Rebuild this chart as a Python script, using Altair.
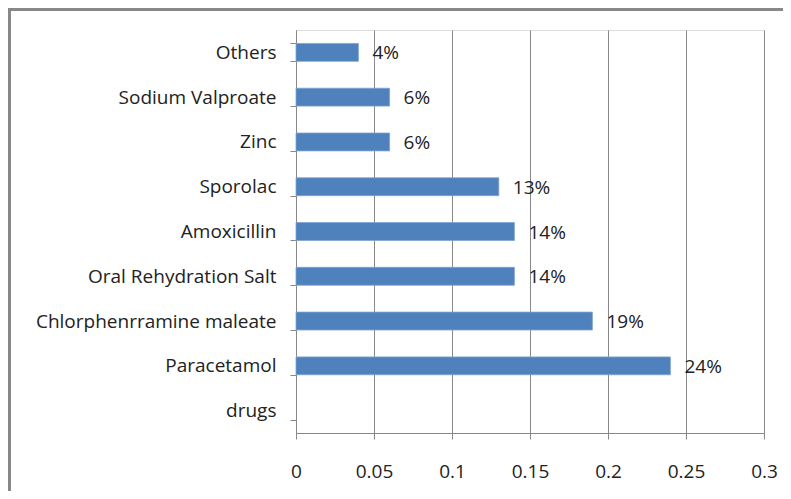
import altair as alt
import pandas as pd

drugs = ["Others", "Sodium Valproate", "Zinc", "Sporolac", "Amoxicillin",
         "Oral Rehydration Salt", "Chlorphenrramine maleate", "Paracetamol", "drugs"]
shares = [0.04, 0.06, 0.06, 0.13, 0.14, 0.14, 0.19, 0.24, None]
x_ticks = [0, 0.05, 0.1, 0.15, 0.2, 0.25, 0.3]

df = pd.DataFrame({"drug": drugs, "share": shares})

FONT = "Open Sans"
FS = 19
W, H = 468, 403
PAD_L, PAD_T, PAD_R, PAD_B = 288, 22, 19, 58

y_enc = alt.Y("drug:N", sort=drugs, title=None,
              scale=alt.Scale(paddingInner=0.6, paddingOuter=0.3),
              axis=alt.Axis(tickBand="extent", labelFont=FONT, labelFontSize=FS,
                            labelColor="#222", labelPadding=14, tickSize=6, labelLimit=0,
                            tickColor="#888", domainColor="#888", grid=False))
x_enc = alt.X("share:Q", title=None,
              scale=alt.Scale(domain=[0, 0.3], nice=False),
              axis=alt.Axis(values=x_ticks, labelExpr="datum.value == 0 ? '0' : format(datum.value, '')",
                            labelFont=FONT, labelFontSize=FS, labelColor="#222",
                            labelPadding=23, tickSize=6, tickColor="#888",
                            domainColor="#888", grid=True, gridColor="#888",
                            gridOpacity=1, labelFlush=False))

bars = alt.Chart(df).mark_bar(color="#4F81BD", stroke="#7FA3D1", strokeWidth=0.8).encode(
    x=x_enc, y=y_enc)

labels = alt.Chart(df).mark_text(align="left", baseline="middle", dx=14, dy=1,
                                 font=FONT, fontSize=FS, color="#222").encode(
    x="share:Q", y=alt.Y("drug:N", sort=drugs),
    text=alt.Text("share:Q", format=".0%"))

frame_top = alt.Chart(df).mark_rule(color="#888", strokeWidth=3).encode(
    x=alt.value(-PAD_L + 1), x2=alt.value(W + PAD_R), y=alt.value(-PAD_T + 1))
frame_left = alt.Chart(df).mark_rule(color="#888", strokeWidth=3).encode(
    x=alt.value(-PAD_L + 1), y=alt.value(-PAD_T), y2=alt.value(H + PAD_B))

chart = alt.layer(bars, labels, frame_top, frame_left).properties(
    width=W, height=H,
    autosize=alt.AutoSizeParams(type="none"),
    padding={"left": PAD_L, "top": PAD_T, "right": PAD_R, "bottom": PAD_B},
).configure_view(stroke=None).configure(background="white")

chart.save("out.html", embed_options={"renderer": "svg", "actions": False})
